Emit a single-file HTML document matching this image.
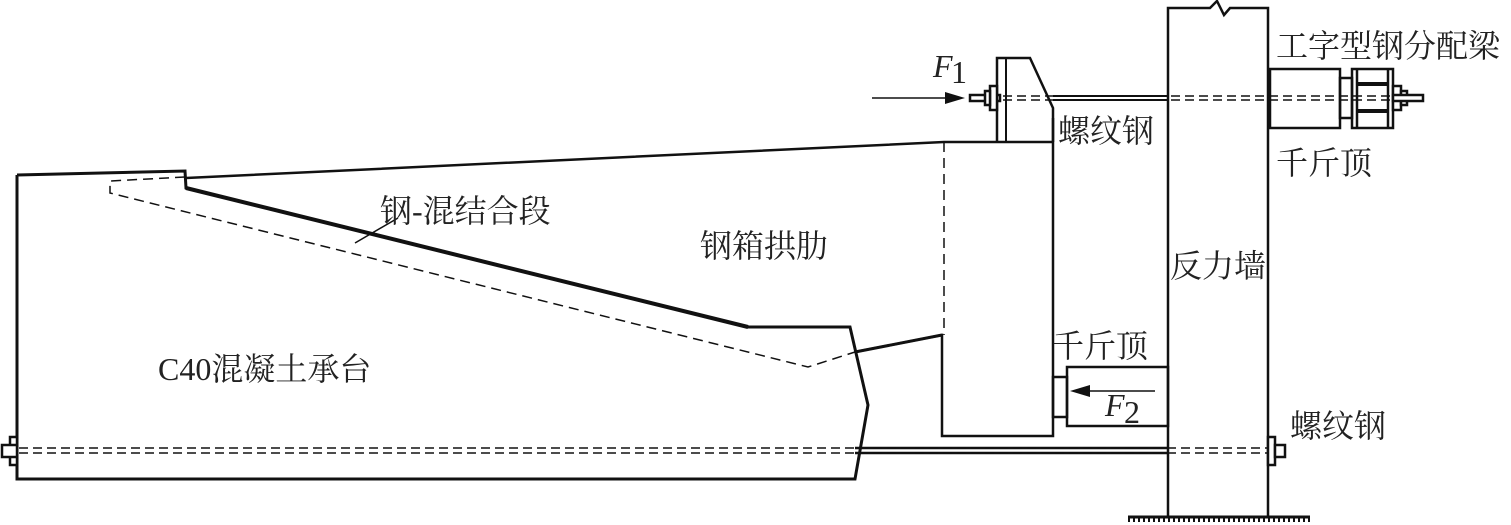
<!DOCTYPE html>
<html><head><meta charset="utf-8"><style>
html,body{margin:0;padding:0;background:#fff;}
svg{display:block}
text{font-family:"Liberation Serif","Noto Serif CJK SC",serif;fill:#222;font-size:32px}
</style></head><body>
<svg width="1511" height="525" viewBox="0 0 1511 525" xmlns="http://www.w3.org/2000/svg">
<g fill="none" stroke="#111" stroke-width="2.5">
<polyline points="17,175 185,171 186,188 748,327 850,327 868,405 855,479 17,479 17,175" stroke-width="3"/>
<polyline points="186,188 748,327" stroke-width="4"/>
<polyline points="186,178 944,142 1053,142"/>
<polyline points="855,352 942,335 942,436 1053,436 1053,118"/>
<line x1="855" y1="352" x2="942" y2="335" stroke-width="3"/>
<polyline points="997,142 997,58 1030,58 1053,108 1053,142"/>
<line x1="1006" y1="58" x2="1006" y2="142" stroke-width="2"/>
<polyline points="1168,517 1168,8 1210,8 1217,1 1224,15 1230,8 1268,8 1268,517"/>
<rect x="1270" y="69" width="70" height="59"/>
<rect x="1340" y="78" width="12" height="40"/>
<rect x="1352" y="69" width="41" height="59"/>
<line x1="1357" y1="69" x2="1357" y2="128"/>
<line x1="1388" y1="69" x2="1388" y2="128"/>
<line x1="1357" y1="84" x2="1388" y2="84" stroke-width="4"/>
<line x1="1357" y1="111" x2="1388" y2="111" stroke-width="4"/>
<rect x="1067" y="367" width="101" height="59"/>
<rect x="1053" y="377" width="14" height="40"/>
</g>
<g stroke="#111" fill="none">
<line x1="1053" y1="96" x2="1168" y2="96" stroke-width="2"/>
<line x1="1053" y1="100" x2="1168" y2="100" stroke-width="2"/>
<line x1="975" y1="96" x2="1420" y2="96" stroke-width="1.5" stroke-dasharray="9,5"/>
<line x1="975" y1="100" x2="1420" y2="100" stroke-width="1.5" stroke-dasharray="9,5"/>
<line x1="855" y1="448" x2="1168" y2="448" stroke-width="2.5"/>
<line x1="855" y1="453" x2="1168" y2="453" stroke-width="2.5"/>
<line x1="5" y1="448" x2="1280" y2="448" stroke-width="1.5" stroke-dasharray="9,5"/>
<line x1="5" y1="453" x2="1280" y2="453" stroke-width="1.5" stroke-dasharray="9,5"/>
<polyline points="185,177 110,181 110,193 808,367 855,352" stroke-width="1.5" stroke-dasharray="10,6"/>
<line x1="944" y1="142" x2="944" y2="335" stroke-width="1.5" stroke-dasharray="10,6"/>
<line x1="355" y1="243" x2="398" y2="218" stroke-width="1.5"/>
</g>
<g fill="#fff" stroke="#111" stroke-width="2.5">
<rect x="970" y="95" width="30" height="6"/>
<rect x="990" y="86" width="7" height="24"/>
<rect x="985" y="91" width="5" height="14"/>
<rect x="1393" y="86" width="8" height="24"/>
<rect x="1401" y="91" width="6" height="14"/>
<rect x="1393" y="95" width="30" height="6"/>
<rect x="10" y="437" width="7" height="28"/>
<rect x="2" y="445" width="15" height="12"/>
<rect x="1268" y="437" width="7" height="28"/>
<rect x="1275" y="445" width="10" height="12"/>
</g>
<line x1="1128" y1="517" x2="1310" y2="517" stroke="#111" stroke-width="3"/>
<line x1="1128" y1="520" x2="1310" y2="520" stroke="#111" stroke-width="4" stroke-dasharray="2,3"/>
<g stroke="#111" stroke-width="1.5" fill="#111">
<line x1="872" y1="98" x2="950" y2="98"/>
<polygon points="965,98 945,92 945,104" stroke="none"/>
<line x1="1155" y1="391" x2="1085" y2="391"/>
<polygon points="1070,391 1090,385 1090,397" stroke="none"/>
</g>
<text x="933" y="77" font-style="italic" font-size="28">F</text><text x="951" y="83" font-size="18">1</text>
<text x="1105" y="416" font-style="italic" font-size="28">F</text><text x="1124" y="423" font-size="18">2</text>
<text x="1276" y="57">工字型钢分配梁</text>
<text x="1058" y="142">螺纹钢</text>
<text x="1276" y="174">千斤顶</text>
<text x="380" y="222">钢-混结合段</text>
<text x="700" y="257">钢箱拱肋</text>
<text x="1170" y="277">反力墙</text>
<text x="1052" y="357">千斤顶</text>
<text x="158" y="380">C40混凝土承台</text>
<text x="1290" y="437">螺纹钢</text>
</svg>
</body></html>
